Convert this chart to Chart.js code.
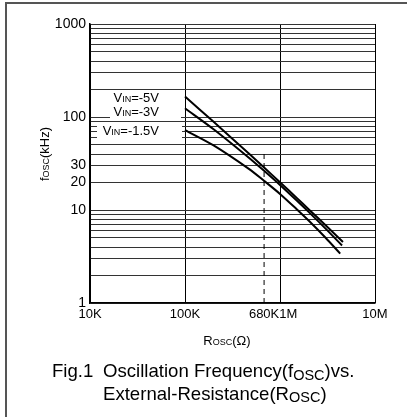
<!DOCTYPE html>
<html>
<head>
<meta charset="utf-8">
<script src="https://cdn.jsdelivr.net/npm/chart.js@4.4.1/dist/chart.umd.min.js"></script>
<style>
  body { margin: 0; background: #fff; }
  #wrap { position: relative; width: 407px; height: 417px; }
  #frame { position: absolute; left: 5px; top: 2px; width: 402px; height: 415px;
           border-left: 2px solid #555; border-top: 2px solid #555; box-sizing: border-box; pointer-events: none; }
</style>
</head>
<body>
<div id="wrap">
  <canvas id="oscChart" width="407" height="417"></canvas>
  <div id="frame"></div>
</div>
<script>
// eixos
const xTickValues = [1e4, 1e5, 6.8e5, 1e6, 1e7];
const xTickLabels = ['10K', '100K', '680K', '1M', '10M'];
const xGridValues = [1e4, 1e5, 1e6, 1e7];
const yLabelValues = [1, 10, 20, 30, 100, 1000];

// curvas (Rosc em ohm, fosc em kHz)
const rosc5 = [100e3, 200e3, 470e3, 680e3, 1e6, 1.5e6, 2e6, 3e6, 4.6e6];
const fosc5 = [166, 88.8, 40.4, 28.6, 19.9, 13.5, 10.2, 6.9, 4.53];
const rosc3 = [100e3, 200e3, 470e3, 680e3, 1e6, 1.5e6, 2e6, 3e6, 4.5e6];
const fosc3 = [124, 73.8, 36.5, 26.4, 18.6, 12.65, 9.54, 6.34, 4.15];
const rosc15 = [100e3, 200e3, 470e3, 680e3, 1e6, 1.5e6, 2e6, 3e6, 4.3e6];
const fosc15 = [72.4, 49.5, 27.7, 20.6, 14.9, 10.2, 7.7, 5.06, 3.4];

// linha tracejada em 680K
const dashR = 680e3;
const dashTop = 40;

const FONT = '"Liberation Sans", Arial, sans-serif';

// grade do eixo y: 1..9 x cada decada
const yGridValues = [];
for (let d = 1; d < 1000; d *= 10) {
    for (let m = 1; m < 10; m++) yGridValues.push(m * d);
}
yGridValues.push(1000);

function pts(xs, ys) {
    return xs.map((x, i) => ({ x: x, y: ys[i] }));
}

// texto com subscrito: parts = [[texto, sub?], ...]
function richWidth(ctx, parts, size, subSize) {
    let w = 0;
    parts.forEach(p => {
        ctx.font = (p[1] ? subSize : size) + 'px ' + FONT;
        w += ctx.measureText(p[0]).width;
    });
    return w;
}
function drawRich(ctx, parts, x, y, align, size, subSize, subDy) {
    const w = richWidth(ctx, parts, size, subSize);
    let cx = x;
    if (align === 'center') cx = x - w / 2;
    if (align === 'right') cx = x - w;
    ctx.textAlign = 'left';
    ctx.textBaseline = 'alphabetic';
    parts.forEach(p => {
        ctx.font = (p[1] ? subSize : size) + 'px ' + FONT;
        ctx.fillText(p[0], cx, y + (p[1] ? subDy : 0));
        cx += ctx.measureText(p[0]).width;
    });
    return w;
}

const textPlugin = {
    id: 'textPlugin',
    beforeDatasetsDraw(chart) {
        const ctx = chart.ctx;
        const right = chart.scales.x.getPixelForValue(1e5) - 4;
        ctx.save();
        // caixas brancas atras dos rotulos
        ctx.fillStyle = '#fff';
        ctx.fillRect(110, 91, right - 110, 12);
        ctx.fillRect(110, 104, right - 110, 15);
        ctx.fillRect(97, 123, right - 97 + 1, 16);
        ctx.fillStyle = '#000';
        drawRich(ctx, [['V', 0], ['IN', 1], ['=-5V', 0]], 159, 102, 'right', 13, 9, 0);
        drawRich(ctx, [['V', 0], ['IN', 1], ['=-3V', 0]], 159, 115.5, 'right', 13, 9, 0);
        drawRich(ctx, [['V', 0], ['IN', 1], ['=-1.5V', 0]], 159, 134.5, 'right', 13, 9, 0);
        ctx.restore();
    },
    afterDraw(chart) {
        const ctx = chart.ctx;
        const xs = chart.scales.x;
        ctx.save();
        ctx.fillStyle = '#000';
        // rotulos do eixo x (sem sobreposicao)
        ctx.font = '13px ' + FONT;
        let lastEnd = -Infinity;
        xTickValues.forEach((v, i) => {
            const w = ctx.measureText(xTickLabels[i]).width;
            let left = xs.getPixelForValue(v) - w / 2;
            if (left < lastEnd) left = lastEnd;
            ctx.textAlign = 'left';
            ctx.fillText(xTickLabels[i], left, 318);
            lastEnd = left + w;
        });
        // titulo eixo x
        drawRich(ctx, [['R', 0], ['OSC', 1], ['(\u03A9)', 0]], 227, 345, 'center', 13, 9, 0);
        // titulo eixo y
        ctx.save();
        ctx.translate(48.5, 154);
        ctx.rotate(-Math.PI / 2);
        drawRich(ctx, [['f', 0], ['OSC', 1], ['(kHz)', 0]], 0, 0, 'center', 13, 9, 0);
        ctx.restore();
        // legenda da figura
        ctx.font = '18.6px ' + FONT;
        ctx.textAlign = 'left';
        ctx.fillText('Fig.1', 52, 377);
        drawRich(ctx, [['Oscillation Frequency(f', 0], ['OSC', 1], [')vs.', 0]], 103, 377, 'left', 18.6, 14.5, 3);
        drawRich(ctx, [['External-Resistance(R', 0], ['OSC', 1], [')', 0]], 103, 400, 'left', 18.6, 14.5, 2);
        ctx.restore();
    }
};

const lineStyle = {
    borderColor: '#000',
    borderWidth: 2,
    pointRadius: 0,
    showLine: true,
    fill: false,
    tension: 0.3
};

new Chart(document.getElementById('oscChart'), {
    type: 'scatter',
    data: {
        datasets: [
            Object.assign({ label: 'VIN=-5V', data: pts(rosc5, fosc5) }, lineStyle),
            Object.assign({ label: 'VIN=-3V', data: pts(rosc3, fosc3) }, lineStyle),
            Object.assign({ label: 'VIN=-1.5V', data: pts(rosc15, fosc15) }, lineStyle),
            {
                label: '680K',
                data: [{ x: dashR, y: 1 }, { x: dashR, y: dashTop }],
                borderColor: '#000',
                borderWidth: 1,
                borderDash: [5, 4],
                pointRadius: 0,
                showLine: true
            }
        ]
    },
    plugins: [textPlugin],
    options: {
        responsive: false,
        devicePixelRatio: 1,
        animation: false,
        layout: {
            padding: { left: 0, top: 24, right: 32, bottom: 114 }
        },
        plugins: {
            legend: { display: false },
            tooltip: { enabled: false }
        },
        scales: {
            x: {
                type: 'logarithmic',
                min: 1e4,
                max: 1e7,
                afterBuildTicks: s => { s.ticks = xGridValues.map(v => ({ value: v })); },
                afterFit: s => { s.height = 0; },
                ticks: { display: false },
                grid: { color: '#000', lineWidth: 1, drawTicks: false },
                border: { color: '#000', width: 1.5 }
            },
            y: {
                type: 'logarithmic',
                min: 1,
                max: 1000,
                afterBuildTicks: s => { s.ticks = yGridValues.map(v => ({ value: v })); },
                afterFit: s => { s.width = 90; },
                ticks: {
                    autoSkip: false,
                    padding: 4,
                    color: '#000',
                    font: { family: FONT, size: 14 },
                    callback: v => yLabelValues.includes(Math.round(v)) ? String(Math.round(v)) : ''
                },
                grid: { color: '#333', lineWidth: 1, drawTicks: false },
                border: { color: '#000', width: 1.5 }
            }
        }
    }
});
</script>
</body>
</html>
